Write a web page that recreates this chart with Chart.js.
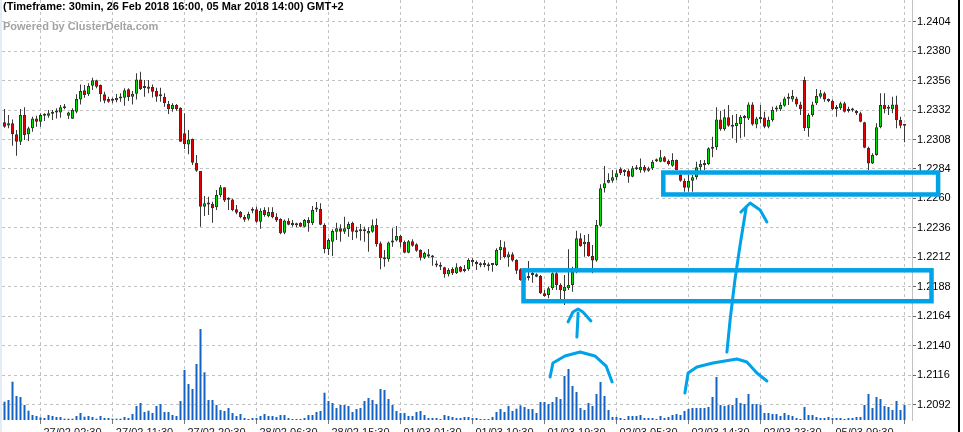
<!DOCTYPE html>
<html>
<head>
<meta charset="utf-8">
<script src="https://cdn.jsdelivr.net/npm/chart.js@4.4.1/dist/chart.umd.min.js"></script>
<style>
  html, body { margin: 0; padding: 0; background: #fff; overflow: hidden; }
  #wrap { position: relative; width: 963px; height: 432px; }
  .caption { position: absolute; left: 3px; font: bold 11px "Liberation Sans", Arial, sans-serif; line-height: 13px; white-space: nowrap; }
  #title { top: 0; color: #000; }
  #powered { top: 20px; color: #a3a3a3; }
</style>
</head>
<body>
<div id="wrap">
  <canvas id="chart" width="963" height="432"></canvas>
  <div class="caption" id="title">(Timeframe: 30min, 26 Feb 2018 16:00, 05 Mar 2018 14:00) GMT+2</div>
  <div class="caption" id="powered">Powered by ClusterDelta.com</div>
</div>
<script>
// 30 min EURUSD candles
const opens = [
  1.23220, 1.23195, 1.23212, 1.23122, 1.23062, 1.23279, 1.23122, 1.23171, 1.23252, 1.23225,
  1.23273, 1.23274, 1.23290, 1.23300, 1.23301, 1.23335, 1.23274, 1.23250, 1.23307, 1.23407,
  1.23481, 1.23448, 1.23519, 1.23562, 1.23524, 1.23448, 1.23410, 1.23400, 1.23399, 1.23415,
  1.23421, 1.23489, 1.23429, 1.23453, 1.23570, 1.23500, 1.23494, 1.23508, 1.23475, 1.23435,
  1.23429, 1.23369, 1.23328, 1.23361, 1.23339, 1.23130, 1.23040, 1.23084, 1.22891, 1.22823,
  1.22533, 1.22560, 1.22554, 1.22527, 1.22625, 1.22690, 1.22590, 1.22592, 1.22511, 1.22489,
  1.22448, 1.22435, 1.22500, 1.22511, 1.22410, 1.22506, 1.22457, 1.22489, 1.22451, 1.22432,
  1.22321, 1.22416, 1.22396, 1.22386, 1.22400, 1.22370, 1.22424, 1.22397, 1.22510, 1.22514,
  1.22383, 1.22185, 1.22247, 1.22329, 1.22356, 1.22329, 1.22351, 1.22402, 1.22330, 1.22335,
  1.22335, 1.22313, 1.22329, 1.22383, 1.22234, 1.22120, 1.22104, 1.22240, 1.22256, 1.22294,
  1.22245, 1.22158, 1.22251, 1.22226, 1.22180, 1.22117, 1.22145, 1.22129, 1.22070, 1.22058,
  1.22039, 1.21982, 1.22025, 1.21990, 1.22044, 1.22009, 1.22022, 1.22079, 1.22082, 1.22063,
  1.22063, 1.22058, 1.22057, 1.22058, 1.22180, 1.22202, 1.22120, 1.22145, 1.22098, 1.22022,
  1.21930, 1.21960, 1.21989, 1.21982, 1.21968, 1.21826, 1.21813, 1.21867, 1.21989, 1.21894,
  1.21846, 1.21867, 1.21894, 1.22003, 1.22275, 1.22226, 1.22247, 1.22130, 1.22093, 1.22378,
  1.22682, 1.22728, 1.22744, 1.22772, 1.22840, 1.22823, 1.22823, 1.22777, 1.22837, 1.22831,
  1.22859, 1.22826, 1.22845, 1.22902, 1.22899, 1.22935, 1.22907, 1.22867, 1.22913, 1.22791,
  1.22744, 1.22687, 1.22744, 1.22772, 1.22853, 1.22872, 1.22880, 1.23005, 1.23016, 1.23244,
  1.23163, 1.23261, 1.23198, 1.23190, 1.23206, 1.23272, 1.23252, 1.23366, 1.23203, 1.23260,
  1.23260, 1.23184, 1.23239, 1.23325, 1.23326, 1.23356, 1.23413, 1.23407, 1.23415, 1.23366,
  1.23565, 1.23171, 1.23279, 1.23375, 1.23429, 1.23456, 1.23410, 1.23394, 1.23328, 1.23334,
  1.23375, 1.23312, 1.23325, 1.23312, 1.23293, 1.23220, 1.23013, 1.22885, 1.22953, 1.23179,
  1.23361, 1.23330, 1.23326, 1.23366, 1.23239, 1.23203
];
const highs = [
  1.23328, 1.23279, 1.23244, 1.23157, 1.23328, 1.23342, 1.23184, 1.23266, 1.23274, 1.23293,
  1.23293, 1.23320, 1.23320, 1.23334, 1.23361, 1.23369, 1.23307, 1.23334, 1.23448, 1.23529,
  1.23524, 1.23538, 1.23584, 1.23567, 1.23529, 1.23470, 1.23429, 1.23421, 1.23451, 1.23456,
  1.23497, 1.23497, 1.23475, 1.23619, 1.23633, 1.23565, 1.23565, 1.23529, 1.23502, 1.23502,
  1.23456, 1.23394, 1.23375, 1.23369, 1.23342, 1.23293, 1.23157, 1.23089, 1.22954, 1.22823,
  1.22620, 1.22614, 1.22573, 1.22669, 1.22709, 1.22690, 1.22609, 1.22598, 1.22546, 1.22497,
  1.22465, 1.22492, 1.22527, 1.22533, 1.22519, 1.22527, 1.22527, 1.22527, 1.22478, 1.22438,
  1.22429, 1.22438, 1.22424, 1.22402, 1.22405, 1.22432, 1.22446, 1.22538, 1.22571, 1.22560,
  1.22397, 1.22275, 1.22348, 1.22402, 1.22389, 1.22451, 1.22410, 1.22410, 1.22370, 1.22392,
  1.22370, 1.22364, 1.22429, 1.22437, 1.22248, 1.22180, 1.22248, 1.22356, 1.22375, 1.22302,
  1.22256, 1.22261, 1.22267, 1.22234, 1.22185, 1.22166, 1.22188, 1.22139, 1.22093, 1.22079,
  1.22044, 1.22030, 1.22039, 1.22071, 1.22049, 1.22058, 1.22112, 1.22112, 1.22093, 1.22079,
  1.22098, 1.22077, 1.22071, 1.22193, 1.22261, 1.22248, 1.22166, 1.22161, 1.22104, 1.22030,
  1.21970, 1.22090, 1.22003, 1.21989, 1.21976, 1.21854, 1.21881, 1.21998, 1.22003, 1.21908,
  1.21976, 1.22185, 1.22044, 1.22337, 1.22315, 1.22302, 1.22310, 1.22220, 1.22424, 1.22715,
  1.22864, 1.22804, 1.22831, 1.22831, 1.22853, 1.22837, 1.22837, 1.22864, 1.22872, 1.22926,
  1.22872, 1.22859, 1.22913, 1.22926, 1.22994, 1.22946, 1.22918, 1.22967, 1.22918, 1.22804,
  1.22763, 1.22791, 1.22791, 1.22899, 1.22913, 1.22913, 1.23016, 1.23103, 1.23342, 1.23315,
  1.23326, 1.23361, 1.23280, 1.23288, 1.23280, 1.23280, 1.23383, 1.23383, 1.23266, 1.23361,
  1.23307, 1.23266, 1.23347, 1.23356, 1.23383, 1.23429, 1.23456, 1.23483, 1.23429, 1.23388,
  1.23592, 1.23293, 1.23388, 1.23491, 1.23483, 1.23470, 1.23415, 1.23407, 1.23361, 1.23388,
  1.23388, 1.23347, 1.23339, 1.23320, 1.23307, 1.23225, 1.23021, 1.22967, 1.23212, 1.23456,
  1.23456, 1.23361, 1.23429, 1.23437, 1.23266, 1.23203
];
const lows = [
  1.23176, 1.23171, 1.23029, 1.22948, 1.23035, 1.23076, 1.23068, 1.23144, 1.23184, 1.23184,
  1.23231, 1.23258, 1.23239, 1.23252, 1.23258, 1.23326, 1.23247, 1.23247, 1.23293, 1.23366,
  1.23421, 1.23434, 1.23483, 1.23497, 1.23388, 1.23375, 1.23380, 1.23375, 1.23383, 1.23388,
  1.23356, 1.23394, 1.23366, 1.23407, 1.23483, 1.23429, 1.23456, 1.23423, 1.23388, 1.23388,
  1.23347, 1.23288, 1.23307, 1.23315, 1.23062, 1.23002, 1.22959, 1.22872, 1.22818, 1.22369,
  1.22457, 1.22465, 1.22402, 1.22506, 1.22609, 1.22571, 1.22506, 1.22495, 1.22470, 1.22438,
  1.22410, 1.22419, 1.22478, 1.22402, 1.22353, 1.22451, 1.22446, 1.22438, 1.22408, 1.22307,
  1.22307, 1.22381, 1.22370, 1.22364, 1.22364, 1.22364, 1.22329, 1.22383, 1.22489, 1.22381,
  1.22152, 1.22139, 1.22131, 1.22261, 1.22247, 1.22310, 1.22288, 1.22261, 1.22275, 1.22256,
  1.22247, 1.22166, 1.22321, 1.22207, 1.22022, 1.22044, 1.22084, 1.22207, 1.22248, 1.22201,
  1.22152, 1.22152, 1.22207, 1.22166, 1.22093, 1.22107, 1.22117, 1.22052, 1.22038, 1.22017,
  1.21954, 1.21963, 1.21976, 1.21984, 1.21998, 1.21998, 1.22011, 1.22049, 1.22017, 1.22039,
  1.22039, 1.22011, 1.22003, 1.22050, 1.22098, 1.22112, 1.22044, 1.22084, 1.21984, 1.21929,
  1.21880, 1.21930, 1.21913, 1.21957, 1.21821, 1.21799, 1.21786, 1.21854, 1.21854, 1.21778,
  1.21731, 1.21854, 1.21839, 1.21989, 1.22207, 1.22125, 1.22125, 1.21989, 1.22084, 1.22369,
  1.22649, 1.22723, 1.22728, 1.22750, 1.22791, 1.22782, 1.22728, 1.22772, 1.22831, 1.22810,
  1.22812, 1.22818, 1.22831, 1.22897, 1.22894, 1.22894, 1.22869, 1.22859, 1.22831, 1.22736,
  1.22655, 1.22655, 1.22655, 1.22755, 1.22818, 1.22831, 1.22872, 1.22935, 1.22994, 1.23152,
  1.23152, 1.23185, 1.23090, 1.23054, 1.23090, 1.23103, 1.23239, 1.23193, 1.23171, 1.23212,
  1.23171, 1.23171, 1.23225, 1.23307, 1.23312, 1.23347, 1.23361, 1.23388, 1.23347, 1.23279,
  1.23149, 1.23103, 1.23266, 1.23361, 1.23415, 1.23388, 1.23383, 1.23320, 1.23266, 1.23320,
  1.23301, 1.23301, 1.23307, 1.23279, 1.23220, 1.23008, 1.22831, 1.22880, 1.22948, 1.23171,
  1.23293, 1.23279, 1.23293, 1.23171, 1.23171, 1.23057
];
const closes = [
  1.23184, 1.23212, 1.23122, 1.23062, 1.23279, 1.23116, 1.23171, 1.23252, 1.23225, 1.23279,
  1.23278, 1.23293, 1.23294, 1.23305, 1.23342, 1.23340, 1.23301, 1.23320, 1.23410, 1.23475,
  1.23442, 1.23516, 1.23562, 1.23510, 1.23448, 1.23396, 1.23388, 1.23396, 1.23418, 1.23420,
  1.23481, 1.23426, 1.23453, 1.23570, 1.23491, 1.23503, 1.23513, 1.23470, 1.23429, 1.23432,
  1.23375, 1.23326, 1.23361, 1.23326, 1.23062, 1.23043, 1.23081, 1.22891, 1.22826, 1.22533,
  1.22560, 1.22550, 1.22519, 1.22628, 1.22690, 1.22582, 1.22596, 1.22506, 1.22484, 1.22446,
  1.22427, 1.22473, 1.22504, 1.22410, 1.22500, 1.22465, 1.22489, 1.22446, 1.22419, 1.22315,
  1.22419, 1.22386, 1.22384, 1.22382, 1.22370, 1.22424, 1.22397, 1.22506, 1.22515, 1.22386,
  1.22188, 1.22261, 1.22334, 1.22356, 1.22329, 1.22356, 1.22392, 1.22329, 1.22325, 1.22332,
  1.22333, 1.22334, 1.22381, 1.22229, 1.22112, 1.22104, 1.22240, 1.22253, 1.22294, 1.22240,
  1.22158, 1.22251, 1.22215, 1.22174, 1.22117, 1.22155, 1.22126, 1.22119, 1.22053, 1.22044,
  1.21982, 1.22017, 1.21990, 1.22039, 1.22003, 1.22025, 1.22098, 1.22098, 1.22063, 1.22055,
  1.22057, 1.22048, 1.22065, 1.22180, 1.22207, 1.22120, 1.22145, 1.22093, 1.22011, 1.21935,
  1.21960, 1.21952, 1.21976, 1.21962, 1.21826, 1.21805, 1.21867, 1.21989, 1.21894, 1.21854,
  1.21881, 1.21894, 1.22003, 1.22275, 1.22213, 1.22247, 1.22130, 1.22093, 1.22383, 1.22682,
  1.22723, 1.22750, 1.22772, 1.22804, 1.22804, 1.22816, 1.22777, 1.22845, 1.22853, 1.22859,
  1.22826, 1.22845, 1.22899, 1.22911, 1.22935, 1.22899, 1.22880, 1.22913, 1.22831, 1.22744,
  1.22687, 1.22744, 1.22772, 1.22853, 1.22880, 1.22883, 1.23008, 1.23016, 1.23244, 1.23163,
  1.23261, 1.23193, 1.23185, 1.23217, 1.23266, 1.23253, 1.23366, 1.23203, 1.23252, 1.23247,
  1.23184, 1.23239, 1.23320, 1.23334, 1.23361, 1.23415, 1.23424, 1.23434, 1.23366, 1.23326,
  1.23171, 1.23279, 1.23366, 1.23434, 1.23456, 1.23407, 1.23394, 1.23326, 1.23345, 1.23375,
  1.23307, 1.23328, 1.23316, 1.23293, 1.23225, 1.23013, 1.22885, 1.22953, 1.23179, 1.23361,
  1.23326, 1.23334, 1.23366, 1.23239, 1.23193, 1.23192
];
const volumes = [
  183, 200, 383, 240, 230, 150, 93, 50, 40, 27, 20, 50, 40, 30, 30, 13, 13, 13, 40, 70,
  33, 40, 30, 13, 40, 20, 20, 13, 13, 13, 30, 20, 60, 140, 170, 80, 93, 70, 140, 160,
  80, 80, 50, 40, 190, 500, 360, 310, 560, 910, 477, 200, 200, 150, 100, 90, 120, 70, 40, 60,
  20, 10, 20, 20, 40, 60, 40, 40, 30, 50, 50, 20, 10, 10, 10, 20, 50, 50, 80, 90,
  273, 190, 170, 120, 150, 150, 140, 80, 110, 120, 190, 220, 200, 160, 310, 300, 210, 150, 90, 70,
  70, 40, 40, 80, 90, 50, 20, 20, 20, 10, 50, 40, 30, 20, 20, 30, 30, 20, 20, 10,
  10, 10, 30, 80, 110, 80, 140, 90, 113, 147, 130, 110, 110, 70, 180, 180, 160, 180, 230, 210,
  440, 510, 340, 280, 120, 100, 170, 140, 260, 380, 240, 100, 30, 30, 20, 10, 40, 40, 40, 50,
  20, 20, 20, 10, 40, 20, 30, 50, 60, 50, 90, 110, 120, 120, 120, 120, 130, 230, 430, 150,
  140, 150, 150, 220, 170, 160, 260, 160, 160, 150, 70, 70, 60, 60, 40, 70, 50, 40, 20, 10,
  130, 50, 50, 30, 20, 20, 30, 20, 20, 20, 10, 20, 20, 30, 30, 150, 260, 120, 230, 210,
  140, 130, 100, 190, 100, 150
];
const candleIndex = opens.map((o, i) => i);

const timeTickIndex = [18, 36, 54, 72, 90, 108, 126, 144, 162, 180, 198, 216];
const timeLabels = [
  "27/02 02:30", "27/02 11:30", "27/02 20:30", "28/02 06:30", "28/02 15:30", "01/03 01:30",
  "01/03 10:30", "01/03 19:30", "02/03 05:30", "02/03 14:30", "02/03 23:30", "05/03 09:30"
];
const priceTicks = [1.2092, 1.2116, 1.2140, 1.2164, 1.2188, 1.2212, 1.2236, 1.2260,
  1.2284, 1.2308, 1.2332, 1.2356, 1.2380, 1.2404];

// hand drawn marks, in candle index / price units
const zoneFrom = [129.75, 164.7];
const zoneTo = [231.75, 233.4];
const zoneHigh = [1.22014, 1.22811];
const zoneLow = [1.21762, 1.22632];
const arcLeft = [[136.4, 1.21144], [137.1, 1.21259], [140.1, 1.21316], [143.9, 1.21348],
  [147.6, 1.21316], [150.4, 1.21234], [151.9, 1.21104]];
const arcRight = [[170.1, 1.21014], [170.9, 1.21177], [173.1, 1.21226], [177.1, 1.21259],
  [183.1, 1.21291], [185.6, 1.21267], [188.1, 1.21177], [190.6, 1.21112]];
const arrowLeftShaft = [[143.1, 1.21470], [143.4, 1.21666]];
const arrowLeftHead = [[140.9, 1.21593], [142.1, 1.21674], [143.4, 1.21699], [144.6, 1.21674], [146.6, 1.21601]];
const arrowRightShaft = [[180.6, 1.21348], [181.4, 1.21609], [182.6, 1.21935], [183.9, 1.22220], [185.4, 1.22522]];
const arrowRightHead = [[184.1, 1.22489], [186.4, 1.22563], [188.9, 1.22506], [190.6, 1.22408]];

const fontFamily = '"Liberation Sans", Arial, sans-serif';
const upColor = "#00e000";
const downColor = "#e00000";
const penColor = "#00a2e8";

const sketchPlugin = {
  id: "sketch",
  beforeDraw(chart) {
    const ctx = chart.ctx;
    ctx.save();
    ctx.fillStyle = "#e6ecf5";
    ctx.fillRect(0, 0, chart.chartArea.left, chart.height);
    ctx.restore();
  },
  afterDraw(chart) {
    const { ctx } = chart;
    const xs = chart.scales.x;
    const ys = chart.scales.y;
    ctx.save();
    ctx.fillStyle = "#000";
    ctx.fillRect(chart.width - 5, 0, 2, chart.height);

    ctx.strokeStyle = penColor;
    ctx.lineWidth = 4.5;
    ctx.lineJoin = "miter";
    for (let k = 0; k < zoneFrom.length; k++) {
      const x0 = xs.getPixelForValue(zoneFrom[k]);
      const x1 = xs.getPixelForValue(zoneTo[k]);
      const y0 = ys.getPixelForValue(zoneHigh[k]);
      const y1 = ys.getPixelForValue(zoneLow[k]);
      ctx.strokeRect(x0, y0, x1 - x0, y1 - y0);
    }

    ctx.lineWidth = 3;
    ctx.lineJoin = "round";
    ctx.lineCap = "round";
    const strokes = [arcLeft, arcRight, arrowLeftShaft, arrowLeftHead, arrowRightShaft, arrowRightHead];
    for (const pts of strokes) {
      ctx.beginPath();
      pts.forEach(([i, p], n) => {
        const px = xs.getPixelForValue(i);
        const py = ys.getPixelForValue(p);
        if (n === 0) ctx.moveTo(px, py);
        else ctx.lineTo(px, py);
      });
      ctx.stroke();
    }
    ctx.restore();
  }
};

new Chart(document.getElementById("chart"), {
  type: "bar",
  data: {
    datasets: [
      {
        label: "body",
        data: candleIndex.map((i) => ({ x: i, y: [opens[i], closes[i]] })),
        backgroundColor: candleIndex.map((i) => (closes[i] >= opens[i] ? upColor : downColor)),
        borderColor: "#333",
        borderWidth: 1,
        borderSkipped: false,
        barThickness: 3,
        minBarLength: 2,
        inflateAmount: 0,
        grouped: false,
        order: 1
      },
      {
        label: "wick",
        data: candleIndex.map((i) => ({ x: i, y: [lows[i], highs[i]] })),
        backgroundColor: "#3a3a3a",
        borderWidth: 0,
        barThickness: 1,
        inflateAmount: 0,
        grouped: false,
        order: 2
      },
      {
        label: "volume",
        yAxisID: "v",
        data: candleIndex.map((i) => ({ x: i, y: volumes[i] })),
        backgroundColor: "#1463c2",
        borderWidth: 0,
        barThickness: 2,
        inflateAmount: 0,
        grouped: false,
        order: 3
      }
    ]
  },
  options: {
    responsive: false,
    animation: false,
    devicePixelRatio: 1,
    layout: { padding: { left: 2, top: 0, right: 0, bottom: 0 } },
    plugins: { legend: { display: false }, tooltip: { enabled: false } },
    scales: {
      x: {
        type: "linear",
        offset: false,
        min: -0.625,
        max: 226.875,
        afterFit: (s) => {
          s.height = 12;
          s.paddingLeft = 0;
          s.paddingRight = 0;
        },
        afterBuildTicks: (s) => { s.ticks = timeTickIndex.map((v) => ({ value: v })); },
        ticks: {
          autoSkip: false,
          maxRotation: 0,
          padding: 2,
          labelOffset: -4,
          color: "#222",
          font: { family: fontFamily, size: 11 },
          callback: (v) => timeLabels[timeTickIndex.indexOf(v)]
        },
        grid: { color: "#c2c2c2", tickLength: 4, tickColor: "#777" },
        border: { display: false, dash: [3, 3] }
      },
      y: {
        position: "right",
        min: 1.20794,
        max: 1.24217,
        afterFit: (s) => {
          s.width = 51;
          s.paddingTop = 0;
          s.paddingBottom = 0;
        },
        afterBuildTicks: (s) => { s.ticks = priceTicks.map((v) => ({ value: v })); },
        ticks: {
          padding: 1,
          color: "#000",
          font: { family: fontFamily, size: 11 },
          callback: (v) => Number(v).toFixed(4)
        },
        grid: { color: "#c2c2c2", tickLength: 4, tickColor: "#666" },
        border: { display: true, color: "#c2c2c2", dash: [3, 3] }
      },
      v: {
        display: false,
        min: 0,
        max: 4200
      }
    }
  },
  plugins: [sketchPlugin]
});
</script>
</body>
</html>
